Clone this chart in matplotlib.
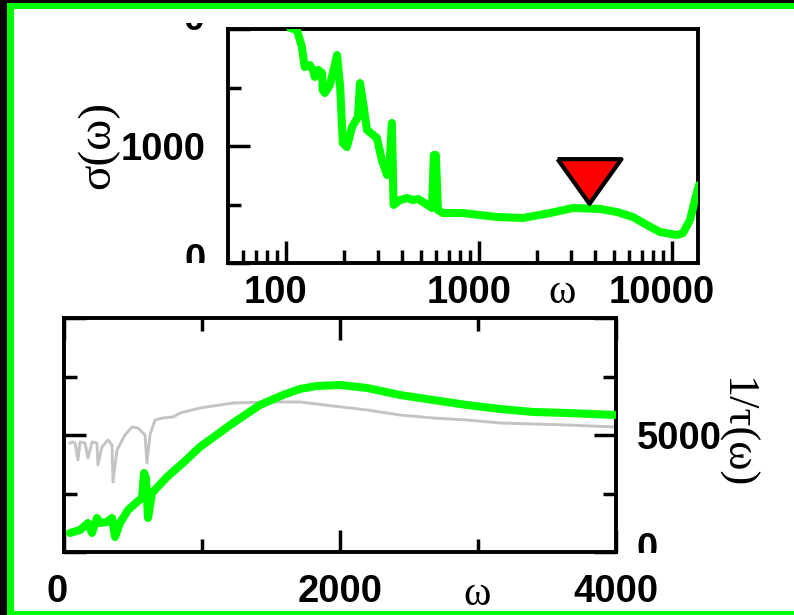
import numpy as np
import matplotlib
matplotlib.use("Agg")
import matplotlib.pyplot as plt
from matplotlib.patches import Rectangle
from matplotlib.transforms import Bbox, TransformedBbox, offset_copy
from matplotlib.ticker import FixedLocator, NullFormatter

# top panel: sigma(omega), log x
sig_w = [105, 114, 121, 125, 133, 138, 141, 147, 154, 155, 159, 169, 175, 184, 191,
         197, 207, 220, 236, 242, 251, 263, 296, 314, 334, 342, 354, 361, 390, 424,
         455, 483, 513, 571, 584, 598, 613, 650, 826, 1239, 1690, 2333, 3069, 4236,
         5189, 6280, 7418, 8665, 10610, 11400, 12400, 13150, 13800]
sig_val = [2010, 1991, 1846, 1675, 1692, 1650, 1590, 1650, 1624, 1479, 1453, 1521, 1624,
           1778, 1504, 1026, 991, 1162, 1248, 1538, 1368, 1137, 1068, 880, 752, 778,
           1197, 496, 538, 555, 538, 547, 521, 470, 923, 923, 453, 427, 427, 393, 385,
           427, 470, 462, 436, 393, 325, 265, 239, 256, 368, 538, 667]
mark_w, mark_val = [3715], [701]

# bottom panel: 1/tau(omega), linear x
tau_w = [43, 116, 174, 203, 239, 261, 312, 348, 370, 406, 464, 529, 565, 580, 594, 609,
         638, 746, 862, 985, 1225, 1420, 1587, 1710, 1833, 2000, 2196, 2435, 2674, 2920,
         3159, 3398, 3645, 4000]
tau_val = [812, 940, 1239, 812, 1453, 1239, 1282, 1453, 641, 1239, 1795, 2137, 2308, 3376,
           3163, 1453, 2522, 3206, 3804, 4488, 5513, 6283, 6710, 6967, 7095, 7138, 7009,
           6710, 6496, 6283, 6112, 5984, 5941, 5855]
ref_w = [43, 58, 80, 101, 116, 152, 174, 203, 239, 246, 275, 319, 348, 355, 384, 442, 493,
         536, 587, 601, 623, 659, 717, 790, 841, 985, 1225, 1471, 1710, 1949, 2196, 2435,
         2674, 2920, 3159, 3398, 3645, 4000]
ref_val = [4650, 4701, 4659, 3932, 4701, 4659, 4018, 4701, 4659, 3718, 4488, 4787, 4573,
           2992, 4359, 5000, 5342, 5300, 5000, 3804, 5000, 5642, 5727, 5770, 5941, 6155,
           6368, 6411, 6411, 6240, 6069, 5855, 5727, 5642, 5513, 5471, 5428, 5342]

W, H = 794, 615
GREEN = "#00ff00"
tick_font = dict(family="Liberation Sans", weight="bold", size=27.5)
greek_font = dict(family="Liberation Serif", size=30)

fig = plt.figure(figsize=(W / 100, H / 100), dpi=100)
fig.patch.set_facecolor("white")


def px_box(x0, y0, x1, y1):
    # pixel box (top-left origin) -> figure fraction
    return (x0 / W, 1 - y1 / H, (x1 - x0) / W, (y1 - y0) / H)


def clip_px(artist, x0, y0, x1, y1):
    b = Bbox.from_extents(x0 / W, 1 - y1 / H, x1 / W, 1 - y0 / H)
    artist.set_clip_box(TransformedBbox(b, fig.transFigure))
    artist.set_clip_on(True)


def shift(artist, dx, dy):
    artist.set_transform(offset_copy(artist.get_transform(), fig=fig,
                                     x=dx, y=dy, units="dots"))


# outer frame
for (x0, y0, x1, y1, c) in [(0, 0, 7, H, "black"), (0, 0, W, 3, "black"),
                            (7, 3, 14, H, GREEN), (7, 3, W, 9, GREEN),
                            (7, 611, W, H, GREEN)]:
    l, b, w, h = px_box(x0, y0, x1, y1)
    fig.patches.append(Rectangle((l, b), w, h, transform=fig.transFigure,
                                 facecolor=c, edgecolor="none", zorder=0))


def style(ax):
    for s in ax.spines.values():
        s.set_linewidth(2.8)
    ax.tick_params(which="major", direction="in", length=16, width=2.5)
    ax.tick_params(which="minor", direction="in", length=9.5, width=2.5)


# ---- top panel ----
ax1 = fig.add_axes(px_box(228, 29, 698, 263))
ax1.plot(sig_w, sig_val, color=GREEN, lw=5.8, solid_capstyle="round",
         solid_joinstyle="round", zorder=3)
tri = [(-1, 0.7), (1, 0.7), (0, -0.7), (-1, 0.7)]
ax1.plot(mark_w, mark_val, linestyle="none", marker=tri, markersize=46,
         markerfacecolor="#ff0000", markeredgecolor="black", markeredgewidth=3,
         zorder=4)
ax1.set_xscale("log")
ax1.set_xlim(50.1, 13640)
ax1.set_ylim(0, 2000)
style(ax1)
ax1.set_xticks([100, 1000, 10000])
ax1.set_xticklabels(["100", "1000", "10000"], fontdict=tick_font)
ax1.xaxis.set_minor_locator(FixedLocator(
    [m * d for d in (10, 100, 1000) for m in range(2, 10)]))
ax1.xaxis.set_minor_formatter(NullFormatter())
ax1.set_yticks([0, 1000, 2000])
ax1.set_yticks([500, 1500], minor=True)
ax1.set_yticklabels(["0", "1000", "2000"], fontdict=tick_font)
ax1.tick_params(axis="x", which="both", top=False, pad=8.5)
ax1.tick_params(axis="y", which="both", right=False, pad=16)
ax1.set_xlabel("\u03c9", fontdict=greek_font)
ax1.xaxis.set_label_coords(0.711, -0.128)
ax1.xaxis.label.set_va("center")
ax1.set_ylabel("\u03c3(\u03c9)", fontdict=dict(greek_font, size=34))
ax1.yaxis.set_label_coords(-0.276, 0.504)
ax1.yaxis.label.set_va("center")

# ---- bottom panel ----
ax2 = fig.add_axes(px_box(64, 318, 616, 552))
ax2.plot(ref_w, ref_val, color="#c4c4c4", lw=2.1, zorder=2)
ax2.plot(tau_w, tau_val, color=GREEN, lw=5.8, solid_capstyle="round",
         solid_joinstyle="round", zorder=3)
ax2.set_xlim(0, 4000)
ax2.set_ylim(0, 10000)
style(ax2)
ax2.set_xticks([0, 2000, 4000])
ax2.set_xticks([1000, 3000], minor=True)
ax2.set_xticklabels(["0", "2000", "4000"], fontdict=tick_font)
ax2.set_yticks([0, 5000, 10000])
ax2.set_yticks([2500, 7500], minor=True)
ax2.set_yticklabels(["0", "5000", ""], fontdict=tick_font)
ax2.tick_params(axis="x", which="both", top=True, bottom=True, pad=16)
ax2.tick_params(axis="y", which="both", left=True, right=True,
                labelleft=False, labelright=True, pad=15)
ax2.set_xlabel("\u03c9", fontdict=greek_font)
ax2.xaxis.set_label_coords(0.748, -0.184)
ax2.xaxis.label.set_va("center")
ax2.yaxis.set_label_position("right")
ax2.set_ylabel("1/\u03c4(\u03c9)", fontdict=dict(greek_font, size=32),
               rotation=270)
ax2.yaxis.set_label_coords(1.216, 0.509)
ax2.yaxis.label.set_va("center")

# the panels are cut-outs: some tick labels are cropped at the panel edges
fig.canvas.draw()
for t in ax1.xaxis.get_major_ticks():
    shift(t.label1, -10, 0)
ylabs1 = [t.label1 for t in ax1.yaxis.get_major_ticks()]
shift(ylabs1[0], 0, 6)
clip_px(ylabs1[0], 0, 23, W, 263)
shift(ylabs1[2], 0, 13)
clip_px(ylabs1[2], 184, 23, 210, 31)
ylabs2 = [t.label2 for t in ax2.yaxis.get_major_ticks()]
shift(ylabs2[0], 0, 6)
clip_px(ylabs2[0], 0, 318, W, 553)
xl0 = ax2.xaxis.get_major_ticks()[0].label1
shift(xl0, -7, 0)
clip_px(xl0, 40, 0, W, H)

fig.savefig("out.png", dpi=100, facecolor="white")
